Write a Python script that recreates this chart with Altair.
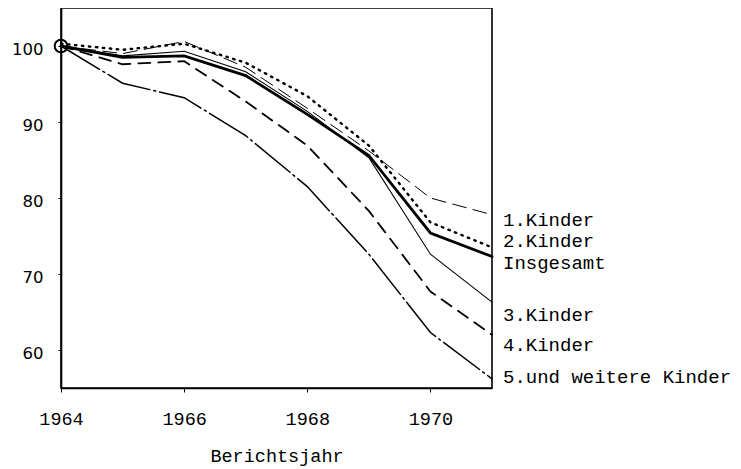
import altair as alt
import pandas as pd

years = [1964, 1965, 1966, 1967, 1968, 1969, 1970, 1971]
insgesamt = [100.0, 98.5, 98.7, 96.1, 91.0, 85.6, 75.4, 72.3]
kinder1 = [100.0, 99.0, 100.6, 97.2, 91.8, 86.2, 80.0, 77.8]
kinder2 = [100.3, 99.5, 100.3, 97.8, 93.4, 86.9, 76.8, 73.5]
kinder3 = [100.0, 98.7, 99.3, 96.6, 91.4, 85.3, 72.6, 66.3]
kinder4 = [100.0, 97.6, 98.0, 92.7, 86.9, 78.3, 67.7, 62.0]
kinder5 = [100.0, 95.1, 93.2, 88.2, 81.5, 72.6, 62.3, 56.2]

series_names = ["1.Kinder", "2.Kinder", "Insgesamt", "3.Kinder", "4.Kinder", "5.und weitere Kinder"]
series_values = [kinder1, kinder2, insgesamt, kinder3, kinder4, kinder5]
label_anchor = [77.1, 74.3, 71.4, 64.6, 60.7, 56.4]

x_ticks = [1964, 1966, 1968, 1970]
y_ticks = [60, 70, 80, 90, 100]

styles = {
    "1.Kinder": dict(strokeDash=[14, 7], strokeWidth=1.0),
    "2.Kinder": dict(strokeDash=[1.5, 5.5], strokeWidth=2.4),
    "Insgesamt": dict(strokeWidth=2.8),
    "3.Kinder": dict(strokeWidth=1.1),
    "4.Kinder": dict(strokeDash=[12, 8], strokeWidth=1.8),
    "5.und weitere Kinder": dict(strokeDash=[45, 4, 2, 4], strokeWidth=1.5),
}

rows = []
for name, vals in zip(series_names, series_values):
    for yr, v in zip(years, vals):
        rows.append({"Jahr": yr, "Wert": v, "Reihe": name})
df = pd.DataFrame(rows)

labels_df = pd.DataFrame({"Jahr": [years[-1]] * len(series_names),
                          "Wert": label_anchor, "Reihe": series_names})
start_df = pd.DataFrame({"Jahr": [years[0]], "Wert": [insgesamt[0]]})

xscale = alt.Scale(domain=[1964, 1971], nice=False, zero=False)
yscale = alt.Scale(domain=[55, 105], nice=False, zero=False)

xaxis = alt.Axis(values=x_ticks, format="d", title="Berichtsjahr", grid=False,
                 labelFont="Liberation Mono", labelFontSize=18.5, labelColor="black",
                 labelFlush=False,
                 titleFont="Liberation Mono", titleFontSize=18.5, titleFontWeight="normal",
                 titleColor="black", titlePadding=19, labelPadding=17, tickSize=4,
                 tickColor="black", domainColor="black", domainWidth=1.6)
yaxis = alt.Axis(values=y_ticks, title=None, grid=False,
                 labelFont="DejaVu Sans", labelFontSize=16.5, labelColor="black",
                 labelFlush=False,
                 labelPadding=15, tickSize=3, tickColor="black", labelOffset=3,
                 domainColor="black", domainWidth=1.6)

X = alt.X("Jahr:Q", scale=xscale, axis=xaxis)
Y = alt.Y("Wert:Q", scale=yscale, axis=yaxis)

layers = []
for name in series_names:
    layers.append(
        alt.Chart(df).transform_filter(alt.datum.Reihe == name)
        .mark_line(color="black", strokeCap="round", **styles[name])
        .encode(x=X, y=Y)
    )

marker = alt.Chart(start_df).mark_point(shape="circle", filled=False, color="black",
                                        size=160, strokeWidth=2.0, opacity=1).encode(x=X, y=Y)

texts = alt.Chart(labels_df).mark_text(align="left", baseline="middle", dx=11,
                                       font="Liberation Mono", fontSize=19, color="black").encode(
    x=X, y=Y, text="Reihe:N",
)

chart = alt.layer(*layers, marker, texts).properties(
    width=431, height=380,
    background="white",
    autosize=alt.AutoSizeParams(type="none"),
    padding={"left": 53, "top": 0, "right": 240, "bottom": 81},
).configure_view(stroke="black", strokeWidth=1.6)

chart.save("out.html", embed_options={"renderer": "svg", "actions": False})
